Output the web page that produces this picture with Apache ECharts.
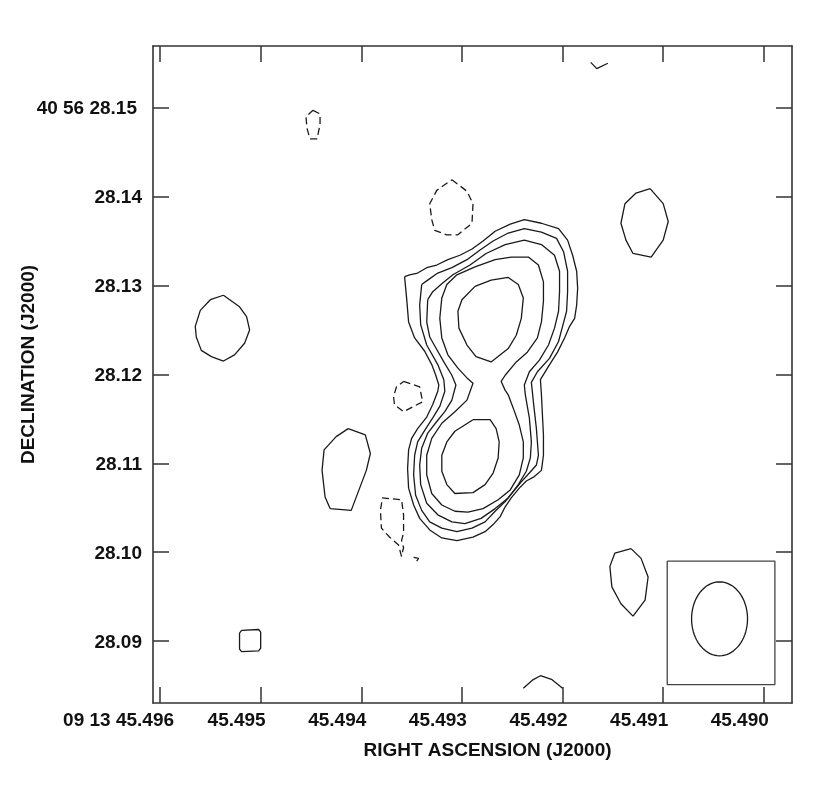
<!DOCTYPE html>
<html>
<head>
<meta charset="utf-8">
<title>Contour map</title>
<script src="https://cdn.jsdelivr.net/npm/echarts@6/dist/echarts.min.js"></script>
<style>
  html, body { margin: 0; padding: 0; background: #fff; }
  #chart { width: 830px; height: 788px; }
</style>
</head>
<body>
<div id="chart"></div>
<script>
// tick positions (RA seconds / Dec arcsec)
var raTicks = [45.496, 45.495, 45.494, 45.493, 45.492, 45.491, 45.490]
var decTicks = [28.15, 28.14, 28.13, 28.12, 28.11, 28.10, 28.09]

// main source, contour levels from outside in: [ra, dec]
var level1 = [
  [45.49357,28.1310],[45.49352,28.1312],[45.49344,28.1314],[45.49335,28.1320],[45.49325,28.1323],
  [45.49314,28.1329],[45.49302,28.1334],[45.49290,28.1341],[45.49279,28.1350],[45.49267,28.1361],
  [45.49252,28.1369],[45.49238,28.1374],[45.49221,28.1370],[45.49204,28.1364],[45.49195,28.1351],
  [45.49190,28.1334],[45.49186,28.1316],[45.49185,28.1297],[45.49186,28.1278],[45.49188,28.1263],
  [45.49193,28.1254],[45.49198,28.1241],[45.49205,28.1225],[45.49214,28.1209],[45.49222,28.1194],
  [45.49221,28.1177],[45.49220,28.1154],[45.49219,28.1132],[45.49219,28.1109],[45.49221,28.1092],
  [45.49228,28.1085],[45.49236,28.1080],[45.49243,28.1072],[45.49251,28.1061],[45.49257,28.1051],
  [45.49262,28.1040],[45.49269,28.1031],[45.49277,28.1023],[45.49289,28.1017],[45.49305,28.1013],
  [45.49320,28.1016],[45.49332,28.1025],[45.49342,28.1038],[45.49348,28.1053],[45.49353,28.1072],
  [45.49354,28.1094],[45.49353,28.1115],[45.49350,28.1128],[45.49344,28.1139],[45.49335,28.1152],
  [45.49329,28.1166],[45.49324,28.1181],[45.49323,28.1188],[45.49326,28.1199],[45.49330,28.1211],
  [45.49337,28.1226],[45.49347,28.1241],[45.49353,28.1259],[45.49355,28.1286]
]
var level2 = [
  [45.49340,28.1301],[45.49334,28.1306],[45.49324,28.1314],[45.49310,28.1320],[45.49295,28.1329],
  [45.49282,28.1340],[45.49269,28.1350],[45.49254,28.1359],[45.49238,28.1364],[45.49221,28.1360],
  [45.49206,28.1353],[45.49199,28.1338],[45.49195,28.1316],[45.49195,28.1293],[45.49196,28.1271],
  [45.49200,28.1254],[45.49204,28.1237],[45.49213,28.1218],[45.49225,28.1203],[45.49231,28.1191],
  [45.49229,28.1169],[45.49226,28.1139],[45.49224,28.1109],[45.49226,28.1098],[45.49233,28.1089],
  [45.49241,28.1079],[45.49249,28.1068],[45.49257,28.1057],[45.49267,28.1046],[45.49277,28.1034],
  [45.49290,28.1027],[45.49305,28.1023],[45.49320,28.1027],[45.49332,28.1034],[45.49340,28.1047],
  [45.49346,28.1064],[45.49348,28.1087],[45.49347,28.1109],[45.49344,28.1124],[45.49337,28.1137],
  [45.49329,28.1151],[45.49322,28.1164],[45.49317,28.1181],[45.49318,28.1194],[45.49324,28.1211],
  [45.49335,28.1233],[45.49341,28.1256],[45.49342,28.1278]
]
var level3 = [
  [45.49334,28.1284],[45.49329,28.1293],[45.49320,28.1302],[45.49309,28.1312],[45.49292,28.1323],
  [45.49276,28.1336],[45.49257,28.1346],[45.49238,28.1351],[45.49221,28.1346],[45.49208,28.1334],
  [45.49203,28.1316],[45.49203,28.1293],[45.49204,28.1271],[45.49208,28.1252],[45.49214,28.1233],
  [45.49223,28.1216],[45.49233,28.1203],[45.49238,28.1188],[45.49237,28.1177],[45.49233,28.1151],
  [45.49231,28.1124],[45.49232,28.1106],[45.49236,28.1091],[45.49244,28.1076],[45.49254,28.1061],
  [45.49267,28.1049],[45.49281,28.1038],[45.49297,28.1032],[45.49310,28.1034],[45.49324,28.1042],
  [45.49335,28.1055],[45.49341,28.1076],[45.49342,28.1098],[45.49340,28.1117],[45.49334,28.1134],
  [45.49325,28.1147],[45.49317,28.1158],[45.49310,28.1171],[45.49306,28.1188],[45.49310,28.1199],
  [45.49318,28.1214],[45.49326,28.1230],[45.49332,28.1242],[45.49335,28.1259]
]
var level4 = [
  [45.49320,28.1286],[45.49315,28.1301],[45.49305,28.1312],[45.49287,28.1321],[45.49267,28.1329],
  [45.49251,28.1332],[45.49234,28.1332],[45.49224,28.1323],[45.49219,28.1304],[45.49219,28.1282],
  [45.49221,28.1259],[45.49225,28.1241],[45.49235,28.1225],[45.49246,28.1214],[45.49257,28.1199],
  [45.49261,28.1192],[45.49257,28.1182],[45.49254,28.1177],[45.49249,28.1162],[45.49243,28.1143],
  [45.49239,28.1124],[45.49239,28.1106],[45.49243,28.1087],[45.49252,28.1070],[45.49264,28.1059],
  [45.49279,28.1049],[45.49294,28.1045],[45.49307,28.1046],[45.49320,28.1053],[45.49330,28.1066],
  [45.49335,28.1087],[45.49335,28.1109],[45.49330,28.1128],[45.49320,28.1145],[45.49307,28.1158],
  [45.49295,28.1171],[45.49289,28.1190],[45.49295,28.1196],[45.49304,28.1207],[45.49314,28.1222],
  [45.49320,28.1241],[45.49322,28.1263]
]
var peakNorth = [
  [45.49287,28.1299],[45.49271,28.1306],[45.49254,28.1309],[45.49244,28.1301],[45.49239,28.1286],
  [45.49241,28.1263],[45.49246,28.1244],[45.49254,28.1229],[45.49271,28.1214],[45.49286,28.1220],
  [45.49295,28.1233],[45.49303,28.1252],[45.49304,28.1271],[45.49300,28.1284]
]
var peakSouth = [
  [45.49289,28.1149],[45.49272,28.1149],[45.49266,28.1139],[45.49263,28.1124],[45.49264,28.1106],
  [45.49269,28.1089],[45.49277,28.1076],[45.49289,28.1067],[45.49307,28.1066],[45.49315,28.1076],
  [45.49320,28.1091],[45.49320,28.1109],[45.49315,28.1124],[45.49307,28.1136]
]

// isolated positive noise contours
var blobWest = [
  [45.49537,28.1289],[45.49521,28.1276],[45.49514,28.1265],[45.49511,28.1250],[45.49516,28.1235],
  [45.49526,28.1222],[45.49537,28.1215],[45.49549,28.1220],[45.49559,28.1227],[45.49564,28.1242],
  [45.49565,28.1254],[45.49560,28.1272],[45.49550,28.1284]
]
var blobMid = [
  [45.49413,28.1139],[45.49396,28.1132],[45.49391,28.1111],[45.49395,28.1092],[45.49401,28.1074],
  [45.49410,28.1047],[45.49431,28.1049],[45.49436,28.1062],[45.49439,28.1092],[45.49437,28.1115],
  [45.49425,28.1130]
]
var blobNE = [
  [45.49113,28.1409],[45.49100,28.1392],[45.49095,28.1372],[45.49100,28.1351],[45.49112,28.1332],
  [45.49130,28.1336],[45.49137,28.1351],[45.49142,28.1370],[45.49138,28.1392],[45.49127,28.1404]
]
var blobSE = [
  [45.49132,28.1004],[45.49122,28.0993],[45.49115,28.0972],[45.49118,28.0946],[45.49130,28.0928],
  [45.49142,28.0942],[45.49151,28.0961],[45.49153,28.0984],[45.49148,28.0999]
]
var blobSquare = [
  [45.49519,28.0912],[45.49502,28.0913],[45.49500,28.0910],[45.49500,28.0892],[45.49502,28.0889],
  [45.49519,28.0888],[45.49521,28.0891],[45.49521,28.0909]
]
var arcTop = [[45.49172,28.1551],[45.49166,28.1544],[45.49155,28.1550]]
var arcBottom = [[45.49239,28.0847],[45.49230,28.0856],[45.49222,28.0861],[45.49211,28.0857],[45.49200,28.0847]]
var hookSmall = [[45.49348,28.0994],[45.49343,28.0993],[45.49345,28.0990]]

// negative contours (dashed)
var negTop = [
  [45.49448,28.1497],[45.49441,28.1493],[45.49441,28.1481],[45.49444,28.1465],[45.49451,28.1465],
  [45.49454,28.1477],[45.49455,28.1490]
]
var negNorth = [
  [45.49310,28.1419],[45.49295,28.1406],[45.49289,28.1392],[45.49290,28.1370],[45.49304,28.1357],
  [45.49315,28.1357],[45.49327,28.1362],[45.49330,28.1374],[45.49332,28.1392],[45.49325,28.1407]
]
var negWaist = [
  [45.49358,28.1192],[45.49342,28.1186],[45.49339,28.1169],[45.49348,28.1164],[45.49358,28.1158],
  [45.49367,28.1166],[45.49368,28.1175],[45.49365,28.1186]
]
var negSouth = [
  [45.49360,28.0995],[45.49363,28.1008],[45.49372,28.1017],[45.49380,28.1027],[45.49381,28.1047],
  [45.49379,28.1061],[45.49360,28.1059],[45.49358,28.1042],[45.49358,28.1022],[45.49360,28.1013],
  [45.49358,28.1005],[45.49360,28.0996]
]

// restoring beam, bottom right
var beamBox = [45.49096, 28.0990, 45.48989, 28.0851]
var beamCenter = [45.49044, 28.0925]
var beamAxes = [0.000278, 0.00416]

var axisFont = 'Liberation Sans, Arial, Helvetica, sans-serif'
var frameColor = '#333'
var labelSize = 19

function closed(list) {
  return list.concat([list[0]])
}

function beamEllipse() {
  var pts = []
  for (var i = 0; i <= 72; i++) {
    var t = i / 72 * Math.PI * 2
    pts.push([beamCenter[0] + beamAxes[0] * Math.cos(t), beamCenter[1] + beamAxes[1] * Math.sin(t)])
  }
  return pts
}

function contour(data, dashed, color) {
  return {
    type: 'line',
    data: data,
    symbol: 'none',
    silent: true,
    animation: false,
    lineStyle: {
      color: color || '#1a1a1a',
      width: 1.3,
      type: dashed ? [7, 4] : 'solid'
    }
  }
}

function axisTickStyle(values) {
  return {
    show: true,
    inside: true,
    length: 16,
    customValues: values,
    lineStyle: { color: frameColor, width: 1.5 }
  }
}

var labelText = { color: '#111', fontFamily: axisFont, fontWeight: 'bold', fontSize: labelSize }
var frameLine = { show: true, onZero: false, lineStyle: { color: frameColor, width: 1.6 } }

var xBase = { type: 'value', min: 45.48972, max: 45.49607, inverse: true, splitLine: { show: false } }
var yBase = { type: 'value', min: 28.08303, max: 28.15694, splitLine: { show: false } }

var option = {
  backgroundColor: '#fff',
  animation: false,
  grid: { left: 153, right: 38, top: 46, bottom: 85, outerBoundsMode: 'none', containLabel: false },
  xAxis: [
    Object.assign({}, xBase, {
      position: 'bottom',
      axisLine: frameLine,
      axisTick: axisTickStyle(raTicks),
      axisLabel: Object.assign({}, labelText, {
        customValues: raTicks,
        margin: 8,
        align: 'right',
        padding: [0, -5, 0, 0],
        formatter: function (v) {
          return Math.abs(v - 45.496) < 1e-7 ? '{f|09 13 45.496}' : v.toFixed(3)
        },
        rich: { f: Object.assign({}, labelText, { padding: [0, -9, 0, 0] }) }
      }),
      name: 'RIGHT ASCENSION (J2000)',
      nameLocation: 'middle',
      nameGap: 38,
      nameMoveOverlap: false,
      nameTextStyle: Object.assign({}, labelText, { padding: [0, 0, 0, 30] })
    }),
    Object.assign({}, xBase, {
      position: 'top',
      axisLine: frameLine,
      axisTick: axisTickStyle(raTicks),
      axisLabel: { show: false }
    })
  ],
  yAxis: [
    Object.assign({}, yBase, {
      position: 'left',
      axisLine: frameLine,
      axisTick: axisTickStyle(decTicks),
      axisLabel: Object.assign({}, labelText, {
        customValues: decTicks,
        margin: 11,
        padding: [3, 0, 0, 0],
        formatter: function (v) {
          return Math.abs(v - 28.15) < 1e-7 ? '{f|40 56 28.15}' : v.toFixed(2)
        },
        rich: { f: Object.assign({}, labelText, { padding: [0, 5, 0, 0] }) }
      }),
      name: 'DECLINATION (J2000)',
      nameLocation: 'middle',
      nameRotate: 90,
      nameGap: 115,
      nameMoveOverlap: false,
      nameTextStyle: Object.assign({}, labelText, { padding: [0, 0, 0, 20] })
    }),
    Object.assign({}, yBase, {
      position: 'right',
      axisLine: frameLine,
      axisTick: axisTickStyle(decTicks),
      axisLabel: { show: false }
    })
  ],
  series: [
    contour(closed(level1)),
    contour(closed(level2)),
    contour(closed(level3)),
    contour(closed(level4)),
    contour(closed(peakNorth)),
    contour(closed(peakSouth)),
    contour(closed(blobWest)),
    contour(closed(blobMid)),
    contour(closed(blobNE)),
    contour(closed(blobSE)),
    contour(closed(blobSquare)),
    contour(arcTop),
    contour(arcBottom),
    contour(hookSmall),
    contour(closed(negTop), true),
    contour(closed(negNorth), true),
    contour(closed(negWaist), true),
    contour(negSouth, true),
    contour([
      [beamBox[0], beamBox[1]], [beamBox[2], beamBox[1]], [beamBox[2], beamBox[3]],
      [beamBox[0], beamBox[3]], [beamBox[0], beamBox[1]]
    ], false, '#444'),
    contour(beamEllipse())
  ]
}

var chart = echarts.init(document.getElementById('chart'), null, { renderer: 'canvas' })
chart.setOption(option)
</script>
</body>
</html>
